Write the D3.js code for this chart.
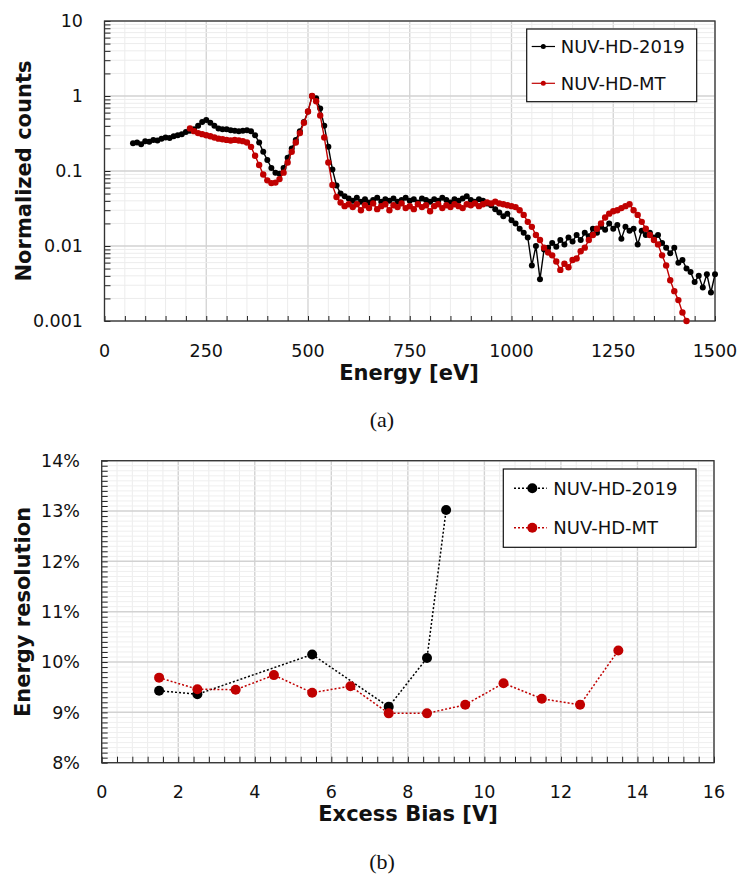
<!DOCTYPE html>
<html>
<head>
<meta charset="utf-8">
<script src="https://cdn.jsdelivr.net/npm/d3@7"></script>
<style>
  body { margin: 0; background: #fff; }
  text { font-family: "DejaVu Sans", Verdana, sans-serif; fill: #111; }
</style>
</head>
<body>
<div id="chart"></div>
<script>
// ---- data ----
var seriesNames = ["NUV-HD-2019", "NUV-HD-MT"];

// (a) spectra
var energy2019 = [70,80,90,100,110,120,130,140,150,160,
  170,180,190,200,210,220,230,240,250,260,
  270,280,290,300,310,320,330,340,350,360,
  370,380,390,400,410,420,430,440,450,460,
  470,480,490,500,510,520,530,540,550,560,
  570,580,590,600,610,620,630,640,650,660,
  670,680,690,700,710,720,730,740,750,760,
  770,780,790,800,810,820,830,840,850,860,
  870,880,890,900,910,920,930,940,950,960,
  970,980,990,1000,1010,1020,1030,1040,1050,1060,
  1070,1080,1090,1100,1110,1120,1130,1140,1150,1160,
  1170,1180,1190,1200,1210,1220,1230,1240,1250,1260,
  1270,1280,1290,1300,1310,1320,1330,1340,1350,1360,
  1370,1380,1390,1400,1410,1420,1430,1440,1450,1460,
  1470,1480,1490,1500];
var counts2019 = [0.235,0.24,0.228,0.25,0.245,0.26,0.255,0.27,0.28,0.275,
  0.29,0.30,0.31,0.33,0.345,0.36,0.40,0.45,0.48,0.44,
  0.40,0.37,0.36,0.36,0.35,0.345,0.34,0.345,0.35,0.34,
  0.30,0.24,0.18,0.14,0.11,0.095,0.092,0.11,0.15,0.20,
  0.26,0.34,0.45,0.62,1.0,0.93,0.68,0.40,0.21,0.105,
  0.064,0.05,0.046,0.043,0.040,0.044,0.039,0.042,0.038,0.041,
  0.044,0.039,0.042,0.040,0.043,0.039,0.041,0.044,0.040,0.042,
  0.038,0.043,0.041,0.039,0.042,0.040,0.044,0.041,0.038,0.042,
  0.040,0.043,0.046,0.041,0.039,0.042,0.040,0.037,0.035,0.031,
  0.028,0.025,0.027,0.022,0.020,0.017,0.015,0.013,0.0055,0.010,
  0.0036,0.009,0.0095,0.011,0.0098,0.012,0.0105,0.013,0.0115,0.014,
  0.012,0.015,0.0135,0.017,0.015,0.018,0.0165,0.020,0.017,0.019,
  0.0125,0.018,0.016,0.017,0.0105,0.016,0.014,0.015,0.013,0.014,
  0.011,0.0095,0.008,0.0095,0.006,0.0065,0.005,0.0045,0.0033,0.004,
  0.0028,0.0042,0.0024,0.0042];

var energyMT = [210,220,230,240,250,260,270,280,290,300,
  310,320,330,340,350,360,370,380,390,400,
  410,420,430,440,450,460,470,480,490,500,
  510,520,530,540,550,560,570,580,590,600,
  610,620,630,640,650,660,670,680,690,700,
  710,720,730,740,750,760,770,780,790,800,
  810,820,830,840,850,860,870,880,890,900,
  910,920,930,940,950,960,970,980,990,1000,
  1010,1020,1030,1040,1050,1060,1070,1080,1090,1100,
  1110,1120,1130,1140,1150,1160,1170,1180,1190,1200,
  1210,1220,1230,1240,1250,1260,1270,1280,1290,1300,
  1310,1320,1330,1340,1350,1360,1370,1380,1390,1400,
  1410,1420,1430];
var countsMT = [0.37,0.34,0.32,0.31,0.30,0.29,0.28,0.27,0.265,0.26,
  0.255,0.26,0.255,0.25,0.24,0.21,0.16,0.12,0.09,0.075,
  0.069,0.070,0.078,0.095,0.13,0.18,0.24,0.32,0.44,0.62,
  1.0,0.85,0.55,0.28,0.13,0.065,0.045,0.038,0.034,0.036,
  0.033,0.036,0.030,0.035,0.032,0.037,0.031,0.034,0.036,0.030,
  0.035,0.033,0.037,0.032,0.034,0.031,0.036,0.033,0.035,0.029,
  0.034,0.036,0.032,0.035,0.033,0.036,0.034,0.032,0.036,0.035,
  0.037,0.034,0.036,0.038,0.037,0.039,0.037,0.036,0.035,0.034,
  0.033,0.030,0.026,0.021,0.018,0.014,0.012,0.0095,0.0082,0.0075,
  0.0062,0.0048,0.0058,0.0052,0.0065,0.0068,0.0085,0.0095,0.012,0.014,
  0.017,0.020,0.024,0.027,0.029,0.030,0.032,0.034,0.036,0.030,
  0.026,0.021,0.017,0.014,0.012,0.0105,0.0075,0.0055,0.0035,0.0025,
  0.0019,0.0013,0.001];

var energyTicks = [0, 250, 500, 750, 1000, 1250, 1500];
var countTicks = [0.001, 0.01, 0.1, 1, 10];
var countTickLabels = ["0.001", "0.01", "0.1", "1", "10"];

// (b) energy resolution vs excess bias
var bias2019 = [1.5, 2.5, 5.5, 7.5, 8.5, 9];
var res2019 = [0.0943, 0.0936, 0.1015, 0.0911, 0.1008, 0.1302];
var biasMT = [1.5, 2.5, 3.5, 4.5, 5.5, 6.5, 7.5, 8.5, 9.5, 10.5, 11.5, 12.5, 13.5];
var resMT = [0.0969, 0.0946, 0.0945, 0.0974, 0.0939, 0.0952, 0.0898, 0.0898, 0.0915, 0.0958, 0.0927, 0.0915, 0.1023];

var biasTicks = [0, 2, 4, 6, 8, 10, 12, 14, 16];
var resTicks = [0.08, 0.09, 0.10, 0.11, 0.12, 0.13, 0.14];

var colors = ["#000000", "#c00000"];

// ---- svg ----
var svg = d3.select("#chart").append("svg")
  .attr("width", 742)
  .attr("height", 874)
  .style("background", "#fff");

// =============== (a) ===============
var xA = d3.scaleLinear().domain([0, 1500]).range([104.5, 715]);
var yA = d3.scaleLog().domain([0.001, 10]).range([321, 21]);

var gA = svg.append("g");

// grid: minor first then major
var minorE = d3.range(0, 1501, 50);
gA.selectAll(".vgrid").data(minorE).enter().append("line")
  .attr("x1", d => xA(d)).attr("x2", d => xA(d))
  .attr("y1", yA.range()[1]).attr("y2", yA.range()[0])
  .attr("stroke", d => d % 250 === 0 ? "#d2d2d2" : "#ececec")
  .attr("stroke-width", d => d % 250 === 0 ? 1.3 : 1);

var logTicks = yA.ticks();
gA.selectAll(".hgrid").data(logTicks).enter().append("line")
  .attr("x1", xA.range()[0]).attr("x2", xA.range()[1])
  .attr("y1", d => yA(d)).attr("y2", d => yA(d))
  .attr("stroke", d => countTicks.indexOf(d) >= 0 ? "#d2d2d2" : "#ececec")
  .attr("stroke-width", d => countTicks.indexOf(d) >= 0 ? 1.5 : 1);

// inside ticks
gA.append("g")
  .attr("transform", "translate(0," + yA.range()[0] + ")")
  .call(d3.axisBottom(xA).tickValues(minorE).tickSize(-5).tickFormat(""))
  .call(g => g.select(".domain").remove())
  .selectAll("line").attr("stroke", "#222");

gA.append("g")
  .attr("transform", "translate(" + xA.range()[0] + ",0)")
  .call(d3.axisLeft(yA).tickValues(logTicks).tickSize(-6).tickFormat(""))
  .call(g => g.select(".domain").remove())
  .selectAll("line").attr("stroke", "#222");

// frame
gA.append("rect")
  .attr("x", xA.range()[0]).attr("y", yA.range()[1])
  .attr("width", xA.range()[1] - xA.range()[0])
  .attr("height", yA.range()[0] - yA.range()[1])
  .attr("fill", "none").attr("stroke", "#333").attr("stroke-width", 1.3);

// tick labels
gA.selectAll(".xlab").data(energyTicks).enter().append("text")
  .attr("x", d => xA(d)).attr("y", 357)
  .attr("text-anchor", "middle").style("font-size", "17.5px")
  .text(d => d);

gA.selectAll(".ylab").data(countTicks).enter().append("text")
  .attr("x", 83).attr("y", d => yA(d)).attr("dy", "0.36em")
  .attr("text-anchor", "end").style("font-size", "17.5px")
  .text((d, i) => countTickLabels[i]);

// axis titles
gA.append("text")
  .attr("x", 409).attr("y", 380)
  .attr("text-anchor", "middle")
  .style("font-size", "21px").style("font-weight", "bold")
  .text("Energy [eV]");

gA.append("text")
  .attr("transform", "translate(23,171) rotate(-90)")
  .attr("text-anchor", "middle").attr("dy", "0.36em")
  .style("font-size", "21px").style("font-weight", "bold")
  .text("Normalized counts");

// series (red drawn last so it sits on top)
var spectra = [
  { e: energy2019, c: counts2019, color: colors[0], r: 3 },
  { e: energyMT, c: countsMT, color: colors[1], r: 3.2 }
];
var lineA = d3.line().x(d => xA(d[0])).y(d => yA(d[1]));

spectra.forEach(function (s) {
  var pts = s.e.map((e, i) => [e, s.c[i]]);
  gA.append("path")
    .attr("d", lineA(pts))
    .attr("fill", "none")
    .attr("stroke", s.color)
    .attr("stroke-width", 1.4);
  gA.append("g").selectAll("circle").data(pts).enter().append("circle")
    .attr("cx", d => xA(d[0])).attr("cy", d => yA(d[1]))
    .attr("r", s.r).attr("fill", s.color);
});

// legend (a)
var legA = gA.append("g");
legA.append("rect")
  .attr("x", 526.7).attr("y", 29).attr("width", 170).attr("height", 72.7)
  .attr("fill", "#fff").attr("stroke", "#111").attr("stroke-width", 1.2);
[46.5, 83.3].forEach(function (yy, i) {
  legA.append("line")
    .attr("x1", 531.7).attr("x2", 555).attr("y1", yy).attr("y2", yy)
    .attr("stroke", colors[i]).attr("stroke-width", 1.2);
  legA.append("circle").attr("cx", 543.3).attr("cy", yy).attr("r", 2.5).attr("fill", colors[i]);
  legA.append("text")
    .attr("x", 560.7).attr("y", yy).attr("dy", "0.36em")
    .style("font-size", "18px")
    .text(seriesNames[i]);
});

svg.append("text")
  .attr("x", 382).attr("y", 427)
  .attr("text-anchor", "middle")
  .style("font-family", "'Liberation Serif', 'Times New Roman', serif")
  .style("font-size", "22px")
  .text("(a)");

// =============== (b) ===============
var xB = d3.scaleLinear().domain([0, 16]).range([101.7, 714]);
var yB = d3.scaleLinear().domain([0.08, 0.14]).range([762.7, 460.7]);

var gB = svg.append("g");

var minorBias = d3.range(0, 16.001, 0.4).map(d => +d.toFixed(1));
gB.selectAll(".vgrid").data(minorBias).enter().append("line")
  .attr("x1", d => xB(d)).attr("x2", d => xB(d))
  .attr("y1", yB.range()[1]).attr("y2", yB.range()[0])
  .attr("stroke", d => biasTicks.indexOf(d) >= 0 ? "#d2d2d2" : "#ececec")
  .attr("stroke-width", d => biasTicks.indexOf(d) >= 0 ? 1.4 : 1);

var minorRes = d3.range(0, 61).map(i => +(0.08 + i * 0.001).toFixed(3));
gB.selectAll(".hgrid").data(minorRes).enter().append("line")
  .attr("x1", xB.range()[0]).attr("x2", xB.range()[1])
  .attr("y1", d => yB(d)).attr("y2", d => yB(d))
  .attr("stroke", (d, i) => i % 10 === 0 ? "#d2d2d2" : "#efefef")
  .attr("stroke-width", (d, i) => i % 10 === 0 ? 1.5 : 1);

gB.append("g")
  .attr("transform", "translate(0," + yB.range()[0] + ")")
  .call(d3.axisBottom(xB).tickValues(minorBias).tickSize(-6).tickFormat(""))
  .call(g => g.select(".domain").remove())
  .selectAll("line").attr("stroke", "#222");

gB.append("g")
  .attr("transform", "translate(" + xB.range()[0] + ",0)")
  .call(d3.axisLeft(yB).tickValues(minorRes).tickSize(-6).tickFormat(""))
  .call(g => g.select(".domain").remove())
  .selectAll("line").attr("stroke", "#222");

gB.append("rect")
  .attr("x", xB.range()[0]).attr("y", yB.range()[1])
  .attr("width", xB.range()[1] - xB.range()[0])
  .attr("height", yB.range()[0] - yB.range()[1])
  .attr("fill", "none").attr("stroke", "#333").attr("stroke-width", 1.3);

gB.selectAll(".xlab").data(biasTicks).enter().append("text")
  .attr("x", d => xB(d)).attr("y", 798)
  .attr("text-anchor", "middle").style("font-size", "17.5px")
  .text(d => d);

gB.selectAll(".ylab").data(resTicks).enter().append("text")
  .attr("x", 80).attr("y", d => yB(d)).attr("dy", "0.36em")
  .attr("text-anchor", "end").style("font-size", "17.5px")
  .text(d3.format(".0%"));

gB.append("text")
  .attr("x", 408).attr("y", 821)
  .attr("text-anchor", "middle")
  .style("font-size", "21px").style("font-weight", "bold")
  .text("Excess Bias [V]");

gB.append("text")
  .attr("transform", "translate(22,612) rotate(-90)")
  .attr("text-anchor", "middle").attr("dy", "0.36em")
  .style("font-size", "21px").style("font-weight", "bold")
  .text("Energy resolution");

var resSeries = [
  { b: bias2019, r: res2019, color: colors[0] },
  { b: biasMT, r: resMT, color: colors[1] }
];
var lineB = d3.line().x(d => xB(d[0])).y(d => yB(d[1]));

resSeries.forEach(function (s) {
  var pts = s.b.map((b, i) => [b, s.r[i]]);
  gB.append("path")
    .attr("d", lineB(pts))
    .attr("fill", "none")
    .attr("stroke", s.color)
    .attr("stroke-width", 1.5)
    .attr("stroke-dasharray", "2,2");
  gB.append("g").selectAll("circle").data(pts).enter().append("circle")
    .attr("cx", d => xB(d[0])).attr("cy", d => yB(d[1]))
    .attr("r", 5).attr("fill", s.color);
});

// legend (b)
var legB = gB.append("g");
legB.append("rect")
  .attr("x", 503.3).attr("y", 469).attr("width", 192.7).attr("height", 78.3)
  .attr("fill", "#fff").attr("stroke", "#111").attr("stroke-width", 1.2);
[488.3, 527.7].forEach(function (yy, i) {
  legB.append("line")
    .attr("x1", 514).attr("x2", 546.7).attr("y1", yy).attr("y2", yy)
    .attr("stroke", colors[i]).attr("stroke-width", 1.5)
    .attr("stroke-dasharray", "2,2");
  legB.append("circle").attr("cx", 532.3).attr("cy", yy).attr("r", 5).attr("fill", colors[i]);
  legB.append("text")
    .attr("x", 553.3).attr("y", yy).attr("dy", "0.36em")
    .style("font-size", "18px")
    .text(seriesNames[i]);
});

svg.append("text")
  .attr("x", 382).attr("y", 869)
  .attr("text-anchor", "middle")
  .style("font-family", "'Liberation Serif', 'Times New Roman', serif")
  .style("font-size", "22px")
  .text("(b)");
</script>
</body>
</html>
